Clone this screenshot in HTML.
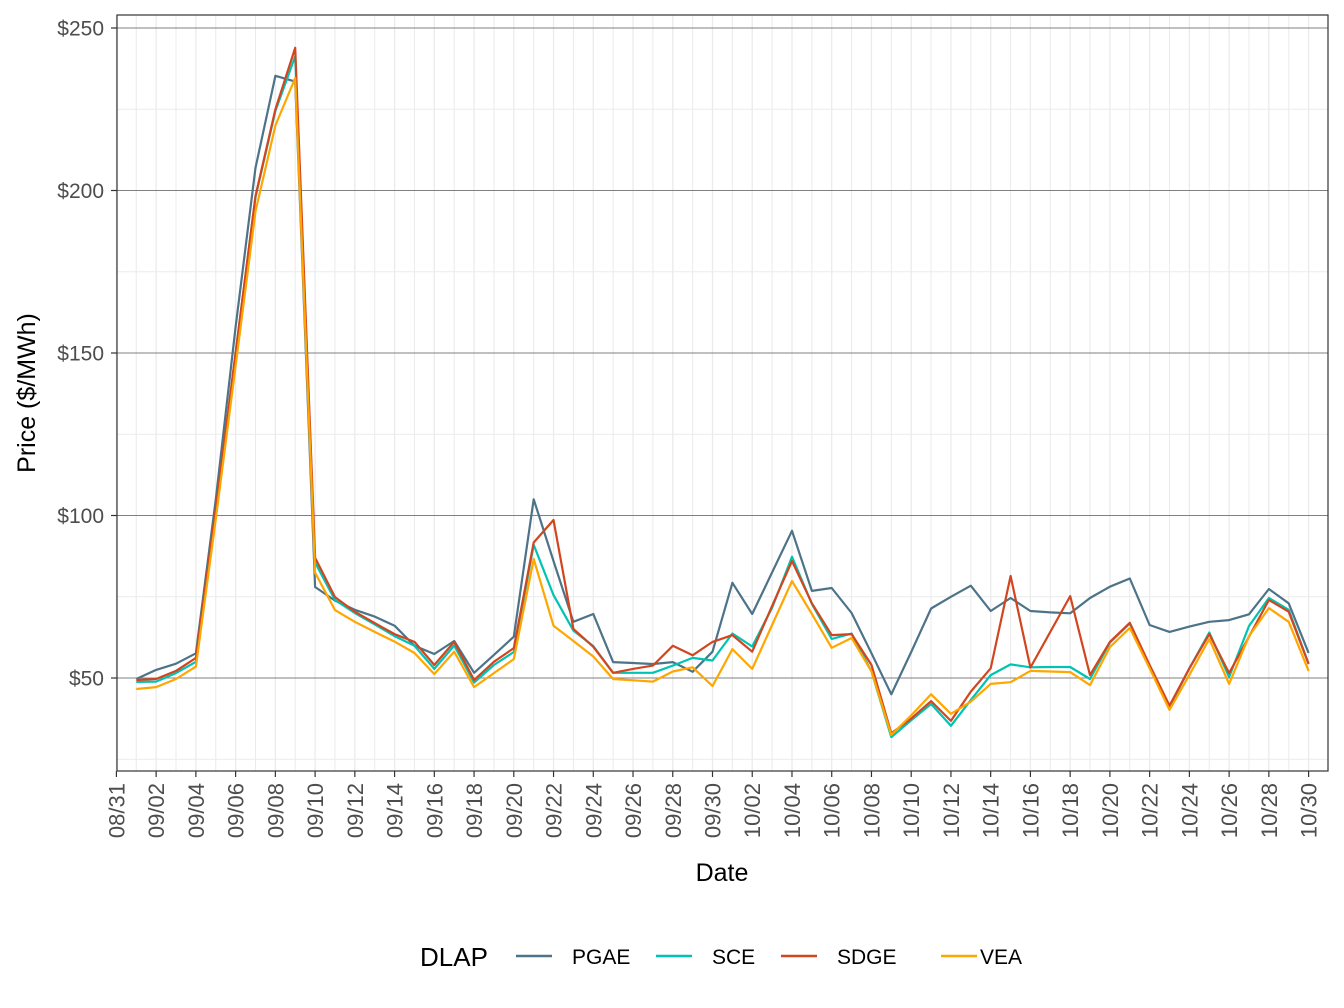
<!DOCTYPE html>
<html><head><meta charset="utf-8"><style>
html,body{margin:0;padding:0;background:#fff;}
svg{display:block;font-family:"Liberation Sans",Arial,sans-serif;}
</style></head><body>
<svg id="chart" width="1344" height="1008" viewBox="0 0 1344 1008">
<g id="grid"></g>
<g id="lines"></g>
<rect x="117" y="15" width="1211" height="756" fill="none" stroke="#333" stroke-width="1.2"/>
<g id="axes"></g>
<text x="0" y="0" transform="translate(35,393) rotate(-90)" text-anchor="middle" font-size="25" fill="#000">Price ($/MWh)</text>
<text x="722" y="881" text-anchor="middle" font-size="25" fill="#000">Date</text>
<g>
<text x="420" y="966" font-size="26" fill="#000">DLAP</text>
<g><line x1="516" y1="956" x2="552" y2="956" stroke="#4d7388" stroke-width="2.5"/><text x="572" y="964" font-size="21" fill="#000">PGAE</text></g>
<g><line x1="656" y1="956" x2="692" y2="956" stroke="#00c4b3" stroke-width="2.5"/><text x="712" y="964" font-size="21" fill="#000">SCE</text></g>
<g><line x1="781" y1="956" x2="817" y2="956" stroke="#d2461f" stroke-width="2.5"/><text x="837" y="964" font-size="21" fill="#000">SDGE</text></g>
<g><line x1="941" y1="956" x2="977" y2="956" stroke="#ffa600" stroke-width="2.5"/><text x="980" y="964" font-size="21" fill="#000">VEA</text></g>
</g>
</svg>
<script>
const pgae = [49.7,52.5,54.4,57.6,105,158,207,235.3,233.5,78,73.8,71,68.9,66.1,59.9,57.4,61.4,51.6,57.1,62.7,105,86,67.3,69.7,54.9,54.6,54.3,54.9,51.9,58.1,79.3,69.7,82.5,95.3,76.8,77.7,70,57.6,45,58,71.4,75,78.4,70.6,74.6,70.6,70.2,69.9,74.6,78.1,80.6,66.3,64.2,65.8,67.3,67.8,69.6,77.4,73,57.7];
const sce = [48.8,48.9,51.5,55,101,150,198,224.5,241.3,85.5,74,70,66.5,62.9,59.9,52.8,60,48.6,54,58,91,75.5,64.6,59.8,51.6,51.6,51.6,53.8,56.2,55.4,63.7,59.7,71.6,87.3,72.8,62,63.7,52,31.8,37,42,35.3,43.2,50.9,54.2,53.3,53.4,53.4,49.7,60.9,66.8,53.7,41,53,64,50.3,66,74.6,71,54.4];
const sdge = [49.4,49.7,52.2,56.2,102,150,198.3,225,243.9,87,74.9,70.4,66.9,63.5,61.1,54,61.1,49.4,55,59.2,91.7,98.6,65.1,59.6,51.6,52.8,53.8,59.9,57,61.1,63.2,58.1,72.2,86,73,63.2,63.5,54,33,37.5,42.9,36.8,45.8,53,81.4,53.2,64.2,75.2,50.9,61.1,67,54,41.5,53,63.5,51.5,62.7,74,70.4,54.3];
const vea = [46.6,47.2,49.7,53.5,99,146,193.6,220,234.6,82.4,70.9,67.3,64.2,61.2,57.7,51.2,58.1,47.2,51.5,55.8,86.6,66.1,61.4,56.6,49.7,49.3,48.9,52,53.3,47.5,58.9,52.8,66.3,79.8,69.7,59.3,62.3,52,32.5,38.5,45,39,42.7,48.2,48.7,52.2,52,51.8,47.8,59.5,65.4,53,40.2,51,62,48.2,62.9,71.5,67.3,52.2];
const yTicks = [50,100,150,200,250];
const yTickLabels = ["$50","$100","$150","$200","$250"];
const xTickLabels = ["08/31","09/02","09/04","09/06","09/08","09/10","09/12","09/14","09/16","09/18","09/20","09/22","09/24","09/26","09/28","09/30","10/02","10/04","10/06","10/08","10/10","10/12","10/14","10/16","10/18","10/20","10/22","10/24","10/26","10/28","10/30"];

const NS = "http://www.w3.org/2000/svg";
function x(d){ return 116.4 + 19.87*d; }
function y(v){ return 678 - (v-50)*3.25; }
function mk(tag, attrs, parent){
  const e = document.createElementNS(NS, tag);
  for (const k in attrs) e.setAttribute(k, attrs[k]);
  parent.appendChild(e); return e;
}
const grid = document.getElementById('grid');
const axes = document.getElementById('axes');
[25,75,125,175,225].forEach(v=>{
  const l = mk('line',{x1:117,x2:1328,y1:y(v),y2:y(v),stroke:'#ebebeb','stroke-width':1},grid);
  
  
});
for (let d=0; d<=60; d++){
  const l = mk('line',{x1:x(d),x2:x(d),y1:15,y2:771,stroke:'#ebebeb','stroke-width':d%2===0?1.3:1},grid);
  
  
}
yTicks.forEach((v,i)=>{
  const l = mk('line',{x1:117,x2:1328,y1:y(v),y2:y(v),stroke:'#808080','stroke-width':1},grid);
  
  
  const t = mk('line',{x1:111,x2:117,y1:y(v),y2:y(v),stroke:'#333','stroke-width':1.2},axes);
  
  
  const tx = mk('text',{x:104,y:y(v)+7.5,'text-anchor':'end','font-size':21,fill:'#4d4d4d'},axes);
  tx.textContent = yTickLabels[i];
  
  
});
xTickLabels.forEach((lab,i)=>{
  const d = i*2, px = x(d);
  const t = mk('line',{x1:px,x2:px,y1:771,y2:777,stroke:'#333','stroke-width':1.2},axes);
  
  
  const tx = mk('text',{x:0,y:0,transform:`translate(${px+8},783) rotate(-90)`,'text-anchor':'end','font-size':22,fill:'#4d4d4d'},axes);
  tx.textContent = lab;
  
  
});
const linesG = document.getElementById('lines');
[[pgae,'#4d7388','pgae'],[sce,'#00c4b3','sce'],[sdge,'#d2461f','sdge'],[vea,'#ffa600','vea']].forEach(([arr,col,nm])=>{
  const pts = arr.map((v,i)=>x(i+1).toFixed(1)+','+y(v).toFixed(1)).join(' ');
  const p = mk('polyline',{points:pts,fill:'none',stroke:col,'stroke-width':2.2,'stroke-linejoin':'round'},linesG);
  
  
});
</script>
</body></html>
